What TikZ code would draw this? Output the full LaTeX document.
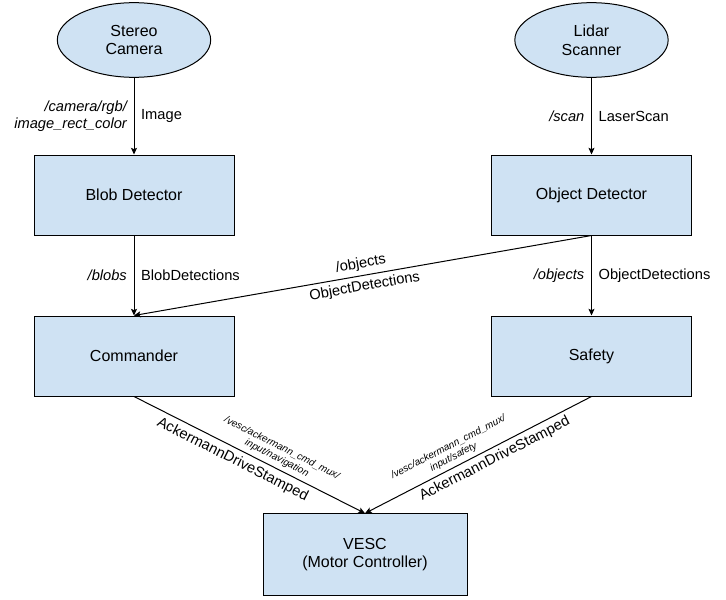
\documentclass[tikz,border=0pt]{standalone}
\usepackage{fontspec}
\setmainfont{Liberation Sans}
\usetikzlibrary{shapes.geometric,arrows.meta}
\definecolor{nodeblue}{HTML}{CFE2F3}

\begin{document}
\begin{tikzpicture}[x=0.75pt, y=-0.75pt,
	sensor/.style={ellipse, draw, fill=nodeblue, line width=0.75pt, minimum width=115pt, minimum height=56pt, align=center, font=\fontsize{12}{14}\selectfont},
	block/.style={rectangle, draw, fill=nodeblue, line width=0.75pt, minimum width=150pt, minimum height=60pt, align=center, font=\fontsize{12}{14}\selectfont},
	link/.style={line width=0.75pt, -{Stealth[length=5pt, width=4.5pt, inset=1pt]}},
	topic/.style={font=\fontsize{11}{13}\selectfont\itshape, align=right, inner sep=5pt},
	msg/.style={font=\fontsize{11}{13}\selectfont, inner sep=5pt},
	mux/.style={font=\fontsize{7.5}{8.5}\selectfont\itshape, align=center, inner sep=3pt}]
	\useasboundingbox (0, 0) rectangle (726, 600);
	%Sensors
	\node [sensor] (camera) at (134, 40) {Stereo\\Camera};
	\node [sensor] (lidar) at (591.5, 40) {Lidar\\Scanner};
	%Detectors
	\node [block] (blob) at (134, 195) {Blob Detector};
	\node [block] (objdet) at (591.5, 195) {Object Detector};
	%Commander and Safety
	\node [block] (commander) at (134, 356) {Commander};
	\node [block] (safety) at (591.5, 356) {Safety};
	%VESC
	\node [block, minimum width=153pt, minimum height=61pt] (vesc) at (365, 554.5) {VESC\\(Motor Controller)};

	%Camera -> Blob Detector
	\draw [link] (camera) -- (blob)
		node [topic, left, midway] {/camera/rgb/\\image\_rect\_color}
		node [msg, right, midway] {Image};
	%Lidar -> Object Detector
	\draw [link] (lidar) -- (objdet)
		node [topic, left, midway] {/scan}
		node [msg, right, midway] {LaserScan};
	%Blob Detector -> Commander
	\draw [link] (blob) -- (commander)
		node [topic, left, midway] {/blobs}
		node [msg, right, midway] {BlobDetections};
	%Object Detector -> Safety
	\draw [link] (objdet) -- (safety)
		node [topic, left, midway] {/objects}
		node [msg, right, midway] {ObjectDetections};
	%Object Detector -> Commander
	\draw [link] (objdet.south) -- (commander.north)
		node [msg, midway, sloped, above, inner sep=3pt] {/objects}
		node [msg, midway, sloped, below, inner sep=3pt] {ObjectDetections};
	%Commander -> VESC
	\draw [link] (commander.south) -- (vesc.north)
		node [msg, pos=0.45, sloped, below, inner sep=3.5pt] {AckermannDriveStamped}
		node [mux, pos=0.6, sloped, above] {/vesc/ackermann\_cmd\_mux/\\input/navigation};
	%Safety -> VESC
	\draw [link] (safety.south) -- (vesc.north)
		node [msg, pos=0.45, sloped, below, inner sep=3pt] {AckermannDriveStamped}
		node [mux, pos=0.59, sloped, above] {/vesc/ackermann\_cmd\_mux/\\input/safety};
\end{tikzpicture}
\end{document}
